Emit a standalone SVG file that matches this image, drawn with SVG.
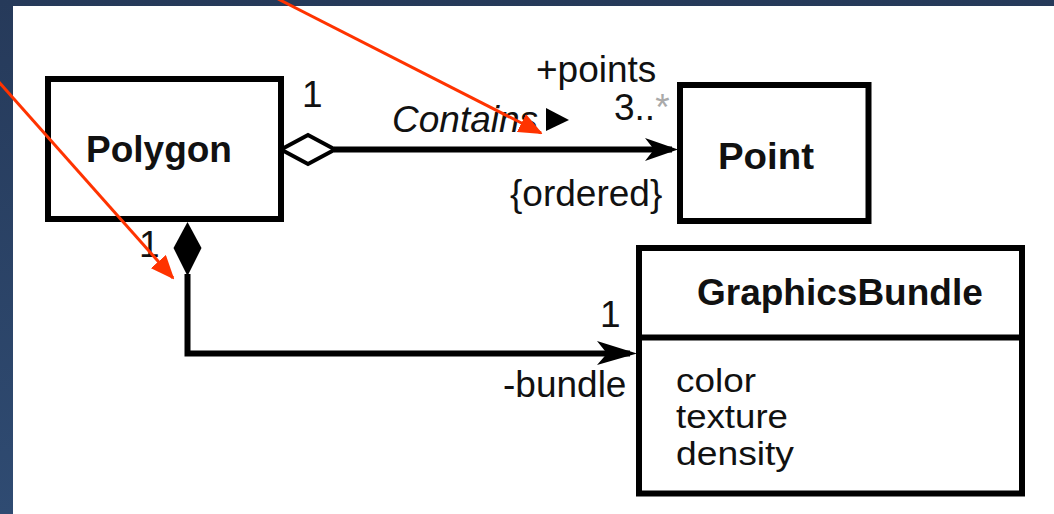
<svg xmlns="http://www.w3.org/2000/svg" width="1054" height="514" viewBox="0 0 1054 514">
  <defs>
    <linearGradient id="bg" x1="0" y1="0" x2="0" y2="1">
      <stop offset="0" stop-color="#263a5a"/>
      <stop offset="1" stop-color="#2f4b72"/>
    </linearGradient>
    <marker id="redhead" markerUnits="userSpaceOnUse" markerWidth="24" markerHeight="20" refX="22" refY="10" orient="auto">
      <path d="M0,0 L24,10 L0,20 z" fill="#ff3300"/>
    </marker>
    <style>
      .box { fill: #ffffff; stroke: #000; stroke-width: 6; }
      .cls { font-family: "Liberation Sans", Arial, sans-serif; font-weight: bold; font-size: 37px; fill: #111; }
      .lbl { font-family: "Liberation Sans", Arial, sans-serif; font-size: 37px; fill: #111; }
      .attr { font-family: "Liberation Sans", Arial, sans-serif; font-size: 34px; fill: #111; }
      .conn { fill: none; stroke: #000; stroke-width: 6; }
      .red { fill: none; stroke: #ff3300; stroke-width: 3; marker-end: url(#redhead); }
    </style>
  </defs>

  <rect x="0" y="0" width="1054" height="514" fill="url(#bg)"/>
  <rect x="13" y="6" width="1041" height="508" fill="#ffffff"/>

  <g id="connectors">
    <!-- aggregation Polygon -> Point -->
    <line class="conn" x1="334" y1="149.5" x2="672" y2="149.5"/>
    <polygon points="281,149.5 308,135 335,149.5 308,164" fill="#fff" stroke="#000" stroke-width="4"/>
    <path d="M645,138 L678,149.5 L645,161 L654,149.5 Z" fill="#000"/>
    <!-- composition Polygon -> GraphicsBundle -->
    <polygon points="187.5,222 201.5,248 187.5,276 173.5,248" fill="#000"/>
    <path class="conn" d="M187.5,274 V353.5 H630"/>
    <path d="M597,341 L637,353.5 L597,365 L607,353.5 Z" fill="#000"/>
  </g>

  <g id="node-polygon">
    <rect class="box" x="48" y="79" width="233" height="140"/>
    <text class="cls" x="86" y="162">Polygon</text>
  </g>

  <g id="node-point">
    <rect class="box" x="680" y="85" width="188.5" height="136"/>
    <text class="cls" x="718" y="169" textLength="96" lengthAdjust="spacingAndGlyphs">Point</text>
  </g>

  <g id="node-graphicsbundle">
    <rect class="box" x="639" y="248" width="383" height="245.5"/>
    <line x1="639" y1="337.5" x2="1022" y2="337.5" stroke="#000" stroke-width="6"/>
    <text class="cls" x="697" y="305">GraphicsBundle</text>
    <text class="attr" x="676" y="392" textLength="80" lengthAdjust="spacingAndGlyphs">color</text>
    <text class="attr" x="676" y="428" textLength="112" lengthAdjust="spacingAndGlyphs">texture</text>
    <text class="attr" x="676" y="465" textLength="118" lengthAdjust="spacingAndGlyphs">density</text>
  </g>

  <g id="labels">
    <text class="lbl" x="302" y="107">1</text>
    <text class="lbl" x="536" y="82">+points</text>
    <text class="lbl" x="614" y="120">3..<tspan fill="#aaaaaa">*</tspan></text>
    <text class="lbl" x="392" y="132" font-style="italic" fill="#333">Contains</text>
    <polygon points="546,108 569,120 546,131" fill="#000"/>
    <text class="lbl" x="510" y="206">{ordered}</text>
    <text class="lbl" x="139" y="257">1</text>
    <text class="lbl" x="600" y="327">1</text>
    <text class="lbl" x="503" y="397">-bundle</text>
  </g>

  <g id="annotations">
    <line class="red" x1="278" y1="-1" x2="541" y2="133"/>
    <line class="red" x1="-2" y1="81" x2="173" y2="278"/>
  </g>
</svg>
